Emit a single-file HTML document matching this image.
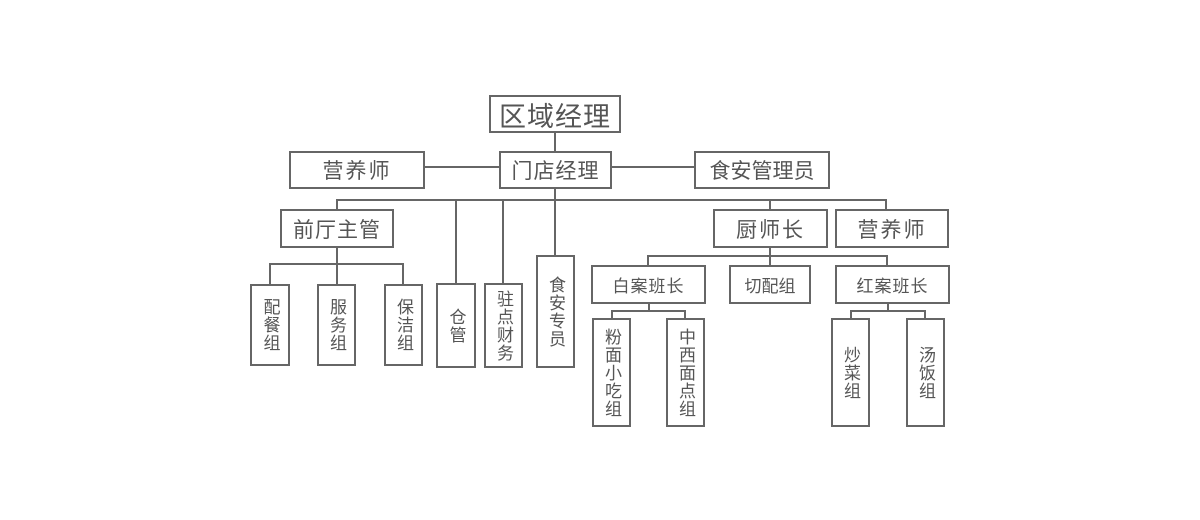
<!DOCTYPE html>
<html><head><meta charset="utf-8"><style>
html,body{margin:0;padding:0;background:#fff;}
#c{position:relative;width:1200px;height:520px;overflow:hidden;font-family:"Liberation Sans","Noto Sans CJK SC",sans-serif;color:#555;}
.b{position:absolute;box-sizing:border-box;border:2px solid #666;background:#fff;display:flex;align-items:center;justify-content:center;white-space:nowrap;}
.v{writing-mode:vertical-rl;text-orientation:upright;font-size:17px;letter-spacing:1px;}
.h{position:absolute;background:#666;height:2px;}
.l{position:absolute;background:#666;width:2px;}
</style></head><body><div id="c">
<!-- lines -->
<div class="l" style="left:554px;top:132px;height:20px"></div>
<div class="h" style="left:424px;top:166px;width:76px"></div>
<div class="h" style="left:611px;top:166px;width:84px"></div>
<div class="l" style="left:554px;top:188px;height:68px"></div>
<div class="h" style="left:336px;top:199px;width:551px"></div>
<div class="l" style="left:336px;top:199px;height:11px"></div>
<div class="l" style="left:769px;top:199px;height:11px"></div>
<div class="l" style="left:885px;top:199px;height:11px"></div>
<div class="l" style="left:455px;top:199px;height:85px"></div>
<div class="l" style="left:502px;top:199px;height:85px"></div>
<div class="l" style="left:336px;top:247px;height:17px"></div>
<div class="h" style="left:269px;top:263px;width:135px"></div>
<div class="l" style="left:269px;top:263px;height:22px"></div>
<div class="l" style="left:336px;top:263px;height:22px"></div>
<div class="l" style="left:402px;top:263px;height:22px"></div>
<div class="l" style="left:769px;top:247px;height:10px"></div>
<div class="h" style="left:647px;top:255px;width:241px"></div>
<div class="l" style="left:647px;top:255px;height:11px"></div>
<div class="l" style="left:769px;top:255px;height:11px"></div>
<div class="l" style="left:886px;top:255px;height:11px"></div>
<div class="l" style="left:648px;top:303px;height:9px"></div>
<div class="h" style="left:611px;top:310px;width:75px"></div>
<div class="l" style="left:611px;top:310px;height:9px"></div>
<div class="l" style="left:684px;top:310px;height:9px"></div>
<div class="l" style="left:887px;top:303px;height:9px"></div>
<div class="h" style="left:850px;top:310px;width:76px"></div>
<div class="l" style="left:850px;top:310px;height:9px"></div>
<div class="l" style="left:924px;top:310px;height:9px"></div>
<!-- boxes -->
<div class="b" style="left:489px;top:95px;width:132px;height:38px;font-size:27px;letter-spacing:1px">区域经理</div>
<div class="b" style="left:289px;top:151px;width:136px;height:38px;font-size:21px;letter-spacing:2px">营养师</div>
<div class="b" style="left:499px;top:151px;width:113px;height:38px;font-size:21px;letter-spacing:1px">门店经理</div>
<div class="b" style="left:694px;top:151px;width:136px;height:38px;font-size:21px">食安管理员</div>
<div class="b" style="left:280px;top:209px;width:114px;height:39px;font-size:21px;letter-spacing:1px">前厅主管</div>
<div class="b" style="left:713px;top:209px;width:115px;height:39px;font-size:21px;letter-spacing:2px">厨师长</div>
<div class="b" style="left:835px;top:209px;width:114px;height:39px;font-size:21px;letter-spacing:2px">营养师</div>
<div class="b v" style="left:250px;top:284px;width:40px;height:82px">配餐组</div>
<div class="b v" style="left:317px;top:284px;width:39px;height:82px">服务组</div>
<div class="b v" style="left:384px;top:284px;width:39px;height:82px">保洁组</div>
<div class="b v" style="left:436px;top:283px;width:40px;height:85px">仓管</div>
<div class="b v" style="left:484px;top:283px;width:39px;height:85px">驻点财务</div>
<div class="b v" style="left:536px;top:255px;width:39px;height:113px">食安专员</div>
<div class="b" style="left:591px;top:265px;width:115px;height:39px;font-size:17px;letter-spacing:1px">白案班长</div>
<div class="b" style="left:729px;top:265px;width:82px;height:39px;font-size:17px">切配组</div>
<div class="b" style="left:835px;top:265px;width:115px;height:39px;font-size:17px;letter-spacing:1px">红案班长</div>
<div class="b v" style="left:592px;top:318px;width:39px;height:109px">粉面小吃组</div>
<div class="b v" style="left:666px;top:318px;width:39px;height:109px">中西面点组</div>
<div class="b v" style="left:831px;top:318px;width:39px;height:109px">炒菜组</div>
<div class="b v" style="left:906px;top:318px;width:39px;height:109px">汤饭组</div>
</div></body></html>
